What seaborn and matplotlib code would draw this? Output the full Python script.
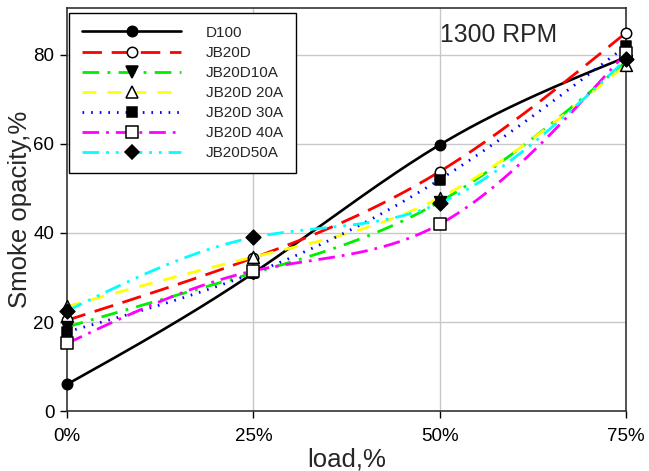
import numpy as np
import pandas as pd
import matplotlib
matplotlib.use("Agg")
import matplotlib.pyplot as plt
from matplotlib.lines import Line2D
import seaborn as sns

# ---- data ----
load = [0, 25, 50, 75]
series_names = ["D100", "JB20D", "JB20D10A", "JB20D 20A", "JB20D 30A", "JB20D 40A", "JB20D50A"]
d100 = [6.0, 31.0, 59.8, 79.5]
jb20d = [20.4, 34.4, 53.8, 85.0]
jb20d10a = [18.9, 31.0, 47.0, 78.5]
jb20d20a = [23.5, 34.6, 47.9, 77.8]
jb20d30a = [17.8, 31.0, 52.0, 82.0]
jb20d40a = [15.2, 31.5, 42.0, 80.5]
jb20d50a = [22.5, 39.0, 46.7, 79.0]
values = [d100, jb20d, jb20d10a, jb20d20a, jb20d30a, jb20d40a, jb20d50a]
xtick_labels = ["0%", "25%", "50%", "75%"]

colors = ["black", "#ff0000", "#00ee00", "#ffff00", "#0000ff", "#ff00ff", "#00ffff"]
dashes = [(None, None), (7, 3.5), (6, 3, 1, 3), (5, 4), (0.6, 2.5), (6, 2.5, 1, 2.5), (6, 2.5, 1, 2.5, 1, 2.5)]
markers = ["o", "o", "v", "^", "s", "s", "D"]
mfaces = ["black", "white", "black", "white", "black", "white", "black"]
msizes = [7.5, 7.5, 8.5, 8.5, 7.5, 8.5, 7.5]


def natural_spline(x, y, n=200):
    x = np.asarray(x, float); y = np.asarray(y, float)
    m = len(x); h = np.diff(x)
    A = np.zeros((m, m)); b = np.zeros(m)
    A[0, 0] = A[-1, -1] = 1
    for i in range(1, m - 1):
        A[i, i - 1] = h[i - 1]; A[i, i] = 2 * (h[i - 1] + h[i]); A[i, i + 1] = h[i]
        b[i] = 6 * ((y[i + 1] - y[i]) / h[i] - (y[i] - y[i - 1]) / h[i - 1])
    M = np.linalg.solve(A, b)
    xs = np.linspace(x[0], x[-1], n)
    idx = np.clip(np.searchsorted(x, xs) - 1, 0, m - 2)
    x0 = x[idx]; x1 = x[idx + 1]; hh = x1 - x0
    ys = (M[idx] * (x1 - xs) ** 3 / (6 * hh) + M[idx + 1] * (xs - x0) ** 3 / (6 * hh)
          + (y[idx] / hh - M[idx] * hh / 6) * (x1 - xs)
          + (y[idx + 1] / hh - M[idx + 1] * hh / 6) * (xs - x0))
    return xs, ys


sns.set_style("white")
plt.rcParams["font.family"] = ["Liberation Sans", "DejaVu Sans"]

fig = plt.figure(figsize=(6.49, 4.71), dpi=100)
ax = fig.add_axes([0.103, 0.127, 0.862, 0.856])

ax.set_xlim(0, 75)
ax.set_ylim(0, 90.5)
ax.set_xticks(load)
ax.set_xticklabels(xtick_labels)
ax.set_yticks([0, 20, 40, 60, 80])
for g in [20, 40, 60, 80]:
    ax.axhline(g, color="#c8c8c8", lw=1, zorder=0)
for g in [25, 50]:
    ax.axvline(g, color="#c8c8c8", lw=1, zorder=0)

handles = []
for i, (name, vals) in enumerate(zip(series_names, values)):
    xs, ys = natural_spline(load, vals)
    df = pd.DataFrame({"x": xs, "y": ys})
    ls = "-" if i == 0 else (0, dashes[i])
    lw = 1.9 if i == 0 else 2.0
    sns.lineplot(data=df, x="x", y="y", ax=ax, color=colors[i], lw=lw,
                 linestyle=ls, sort=False, estimator=None, zorder=2 + i * 0.1)
    pdf = pd.DataFrame({"x": load, "y": vals})
    sns.scatterplot(data=pdf, x="x", y="y", ax=ax, marker=markers[i], s=msizes[i] ** 2,
                    facecolor=mfaces[i], edgecolor="black", linewidth=1.1,
                    zorder=5, clip_on=False)
    handles.append(Line2D([0], [0], color=colors[i], lw=lw, linestyle=ls,
                          marker=markers[i], markersize=msizes[i],
                          markerfacecolor=mfaces[i], markeredgecolor="black",
                          markeredgewidth=1.1))

leg = ax.legend(handles, series_names, loc="upper left", bbox_to_anchor=(0.004, 0.988),
                borderaxespad=0, frameon=True, fancybox=False, edgecolor="black",
                framealpha=1, handlelength=6.5, fontsize=11, labelspacing=0.4,
                borderpad=0.85, handletextpad=1.6)
leg.get_frame().set_linewidth(1.0)

ax.text(0.667, 0.932, "1300 RPM", transform=ax.transAxes, fontsize=17.8,
        ha="left", va="center")

ax.set_xlabel("load,%", fontsize=18.5, labelpad=2)
ax.set_ylabel("Smoke opacity,%", fontsize=18.5)
ax.yaxis.set_label_coords(-0.062, 0.5)
ax.tick_params(axis="both", labelsize=13.5, direction="out", length=5, width=1,
               colors="black", left=True, bottom=True)
ax.tick_params(axis="x", pad=7)
ax.tick_params(axis="y", pad=4)
for s in ax.spines.values():
    s.set_color("#333333"); s.set_linewidth(1.2); s.set_visible(True)

fig.savefig("out.png", dpi=100)
